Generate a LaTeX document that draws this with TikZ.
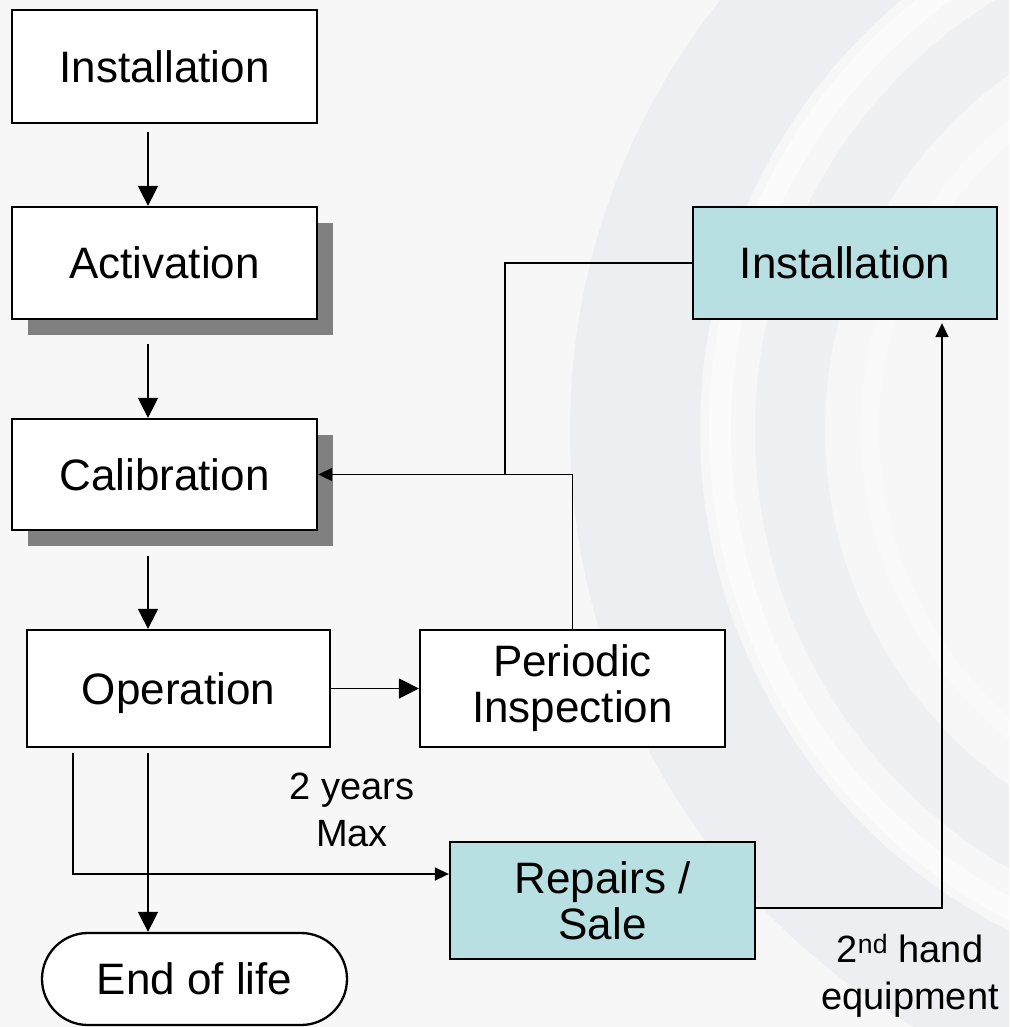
\documentclass[tikz,border=0pt]{standalone}
\usepackage{fontspec}
\setmainfont{Liberation Sans}
\usetikzlibrary{shapes.misc,shadows,arrows.meta}
\definecolor{pagebg}{HTML}{F7F7F7}
\definecolor{swirl}{HTML}{E6E8EE}
\definecolor{paleteal}{HTML}{B8DFE1}
\definecolor{shade}{HTML}{808080}
\begin{document}
\begin{tikzpicture}[x=1pt,y=-1pt,
  box/.style={draw=black, line width=2.3pt, fill=white, minimum width=305pt,
    minimum height=112pt, inner sep=0pt, align=center,
    font=\fontsize{44}{46}\selectfont},
  tealbox/.style={box, fill=paleteal},
  shadowed/.style={general shadow={fill=shade, shadow xshift=16pt, shadow yshift=-16pt}},
  terminal/.style={box, rounded rectangle, minimum height=92pt},
  lbl/.style={align=center, inner sep=0pt, font=\fontsize{38}{47}\selectfont},
  link/.style={line width=1.6pt},
  bigarr/.style={link, -{Triangle[length=20pt,width=20pt]}},
  smallarr/.style={link, -{Triangle[length=14pt,width=13pt]}}
]
% page background with faint concentric swirls on the right
\fill[pagebg] (0,0) rectangle (1009,1027);
\begin{scope}
  \clip (0,0) rectangle (1009,1027);
  \draw[swirl, opacity=.55, line width=130pt] (1260,430) circle (625pt);
  \draw[white, opacity=.5, line width=22pt] (1260,430) circle (540pt);
  \draw[swirl, opacity=.45, line width=70pt] (1260,430) circle (470pt);
  \draw[white, opacity=.35, line width=18pt] (1260,430) circle (390pt);
\end{scope}

% process boxes
\node[box] (inst1) at (164.5,66.5) [minimum height=113pt] {Installation};
\node[box, shadowed] (act) at (164.5,263) {Activation};
\node[box, shadowed] (cal) at (164.5,474.5) [minimum height=111pt] {Calibration};
\node[box, text depth=0pt] (op) at (178.5,688.5) [minimum width=303pt, minimum height=117pt] {Operation};
\node[box] (per) at (572.5,688.5) [minimum height=117pt] {Periodic\\Inspection};
\node[tealbox] (inst2) at (845,263) [minimum width=304pt] {Installation};
\node[tealbox] (rep) at (602.5,900.5) [minimum height=117pt] {Repairs /\\Sale};
\node[terminal] (eol) at (194.5,979) {End of life};

% labels
\node[lbl] (maxlbl) at (352,810) {2 years\\Max};
\node[lbl] (handlbl) at (910,975.5) {2\textsuperscript{nd} hand\\equipment};

% routing points
\coordinate (colx) at (148,0);
\coordinate (split) at (73,874);
\coordinate (back) at (942,908);
\coordinate (join) at (505,474.5);

% main chain
\draw[bigarr] ([yshift=-8pt]inst1.south -| colx) -- (act.north -| colx);
\draw[bigarr] ([yshift=-24pt]act.south -| colx) -- (cal.north -| colx);
\draw[bigarr] ([yshift=-25pt]cal.south -| colx) -- (op.north -| colx);
\draw[bigarr] (op.east) -- (per.west);

% inspection and reinstallation back to calibration
\draw[smallarr] (per.north) |- (cal.east);
\draw[link] (inst2.west) -| (join);

% exits from operation
\draw[smallarr] ([yshift=-5pt]op.south -| split) |- (rep.west |- split);
\draw[bigarr] ([yshift=-5pt]op.south -| colx) -- (eol.north -| colx);

% second-hand equipment back to installation
\draw[smallarr] (rep.east |- back) -| ([yshift=-3pt]inst2.south -| back);
\end{tikzpicture}
\end{document}
